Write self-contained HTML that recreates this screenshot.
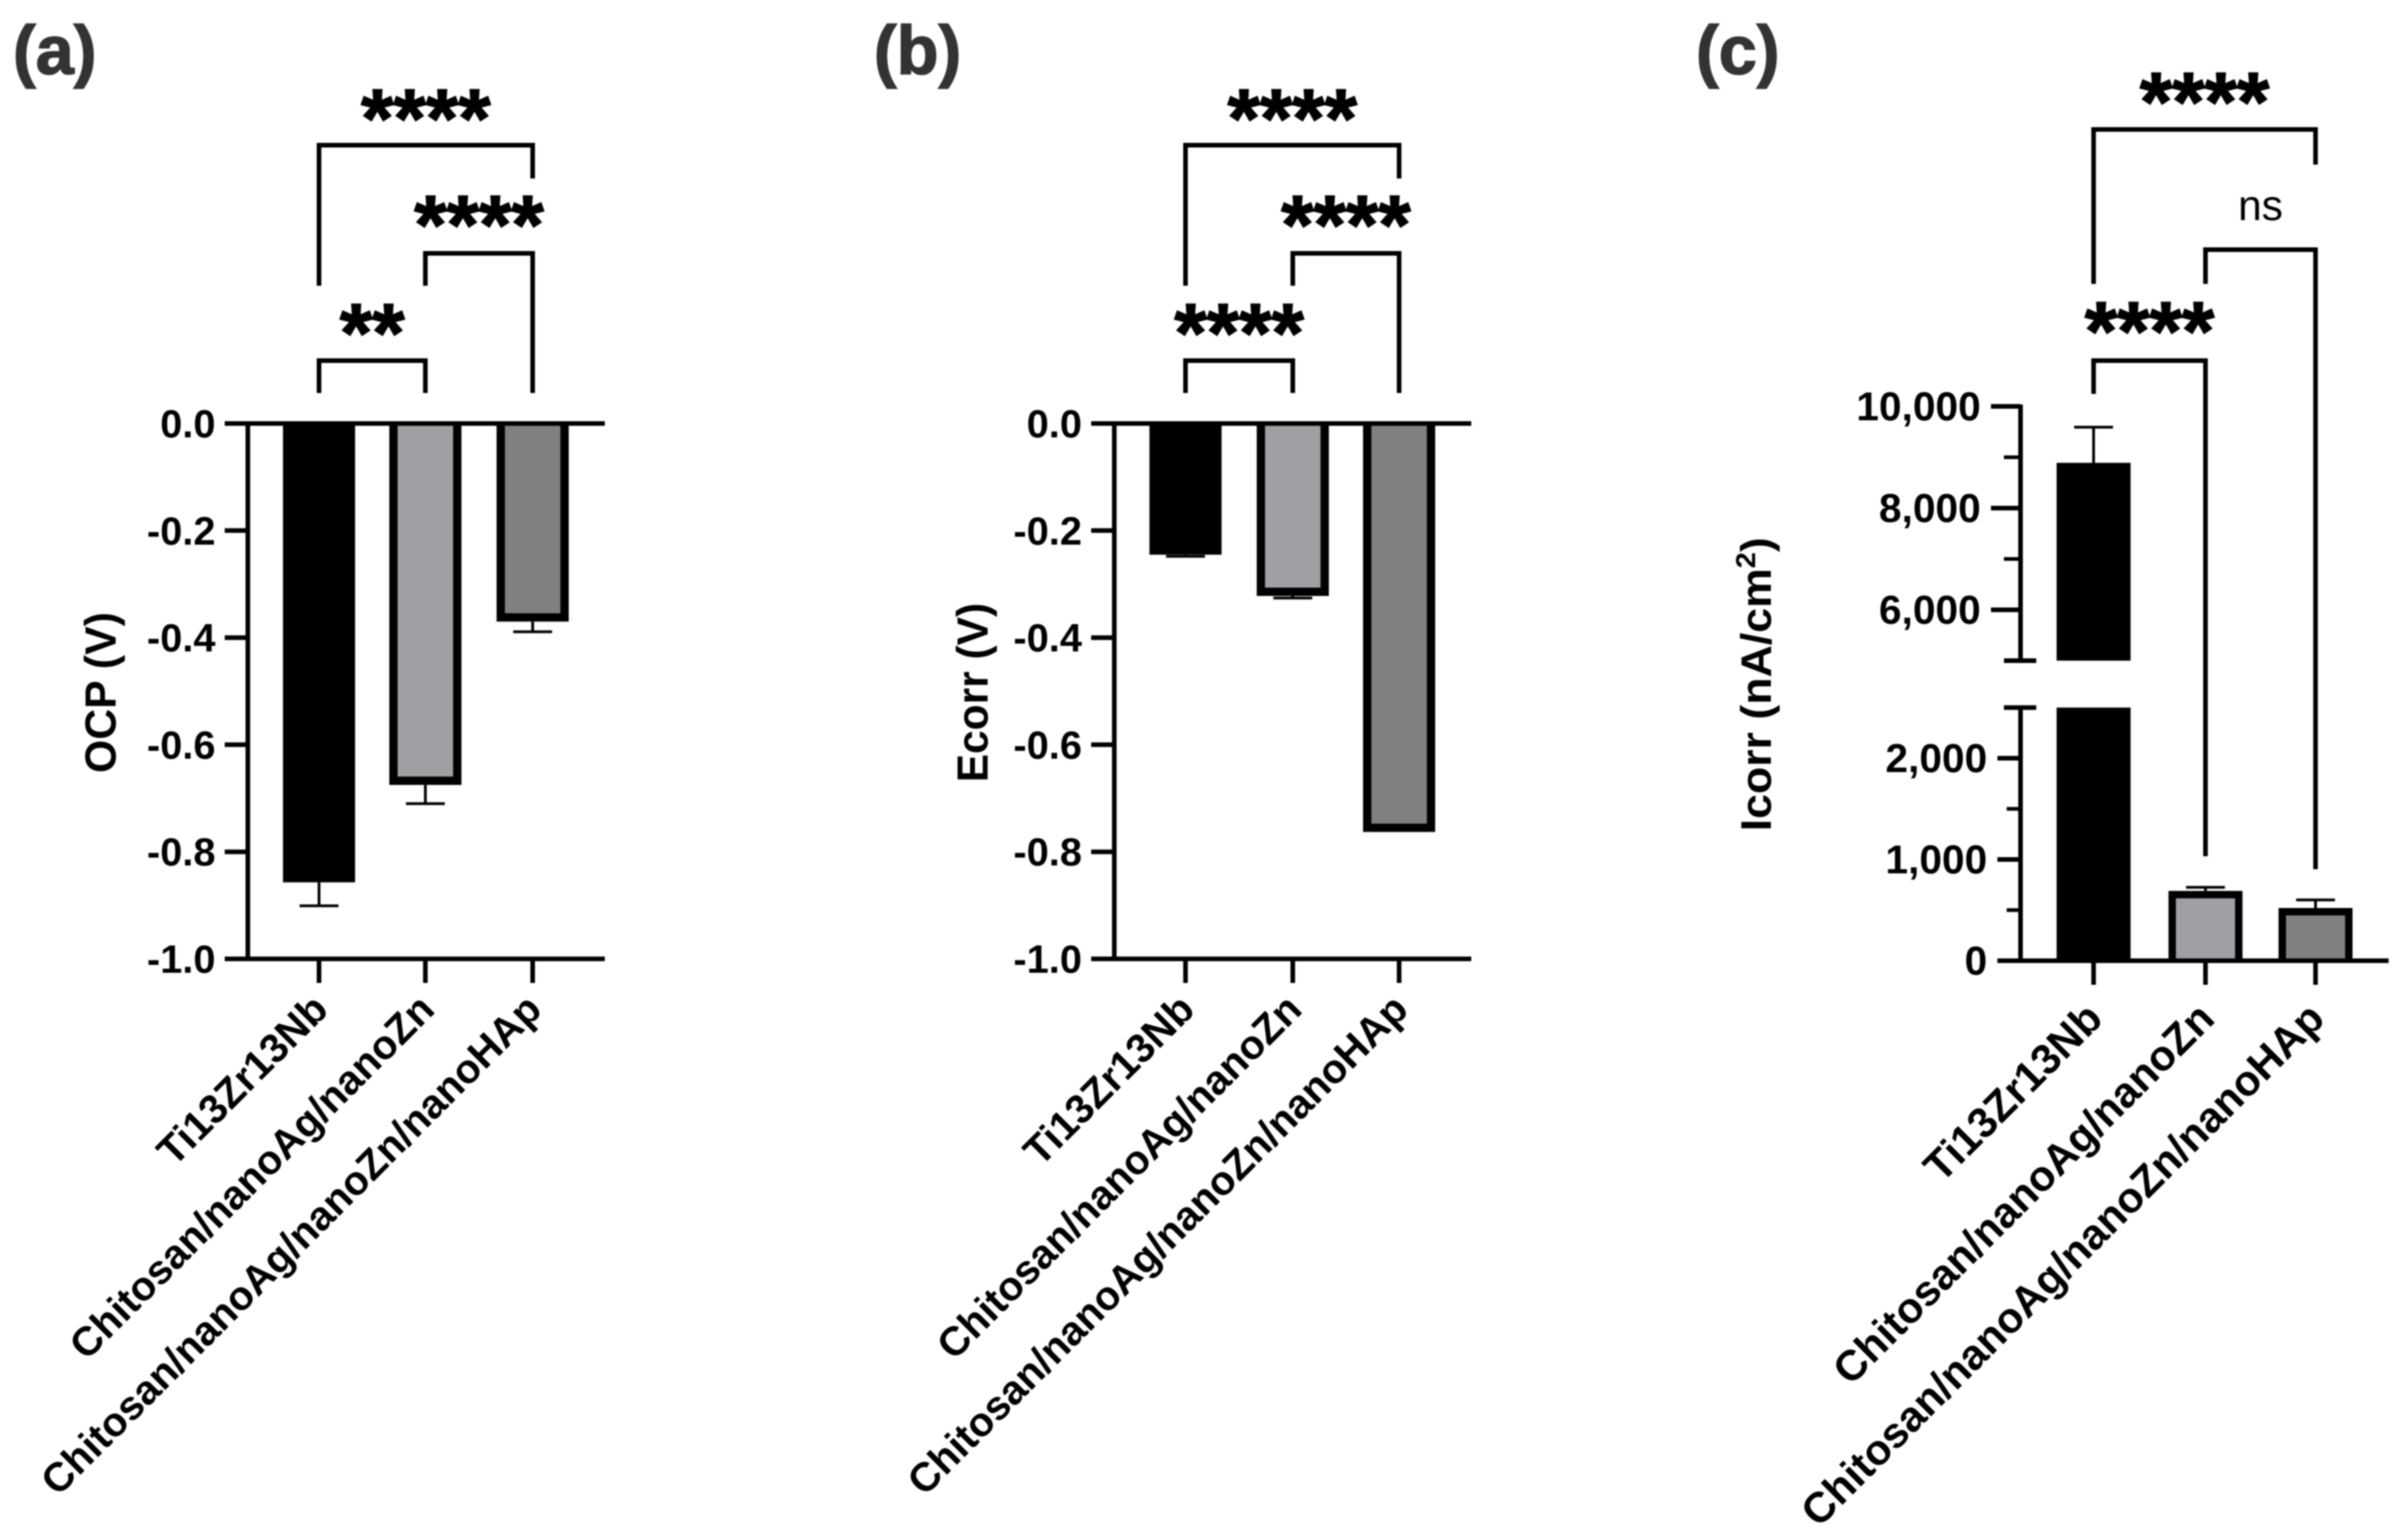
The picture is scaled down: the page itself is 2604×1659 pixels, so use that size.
<!DOCTYPE html>
<html lang="en">
<head>
<meta charset="utf-8">
<title>OCP, Ecorr and Icorr bar charts</title>
<style>
html,body{margin:0;padding:0;background:#fff;}
svg{display:block;font-family:"Liberation Sans",Arial,sans-serif;filter:blur(0.7px);}
</style>
</head>
<body>
<svg id="figure" width="2604" height="1659" viewBox="0 0 2604 1659" xmlns="http://www.w3.org/2000/svg"></svg>
<script>
const categories = ["Ti13Zr13Nb", "Chitosan/nanoAg/nanoZn", "Chitosan/nanoAg/nanoZn/nanoHAp"];
const barFills = ["#000000", "#a0a0a4", "#808080"];

const ocpValues = [-0.857, -0.675, -0.37];
const ocpErrors = [0.044, 0.035, 0.019];
const ecorrValues = [-0.245, -0.322, -0.763];
const ecorrErrors = [0.003, 0.004, 0];
const voltageTicks = [0, -0.2, -0.4, -0.6, -0.8, -1.0];
const icorrValues = [8890, 690, 520];
const icorrErrors = [700, 35, 80];
const icorrUpperMajorTicks = [10000, 8000, 6000];
const icorrUpperMinorTicks = [9000, 7000];
const icorrLowerMajorTicks = [2000, 1000, 0];
const icorrLowerMinorTicks = [1500, 500];
const icorrBreak = [2500, 5000];

const svg = document.getElementById('figure');
const NS = 'http://www.w3.org/2000/svg';

function mk(tag, attrs, name, parent) {
  const el = document.createElementNS(NS, tag);
  for (const k in attrs) el.setAttribute(k, attrs[k]);
  
  
  (parent || svg).appendChild(el);
  return el;
}
function line(x1, y1, x2, y2, w, name, parent) {
  return mk('line', {x1: x1, y1: y1, x2: x2, y2: y2, stroke: '#000', 'stroke-width': w}, name, parent);
}
function text(str, x, y, size, weight, anchor, name, parent, fill) {
  const t = mk('text', {x: x, y: y, 'font-size': size, 'font-weight': weight, 'text-anchor': anchor, fill: fill || '#000'}, name, parent);
  t.textContent = str;
  return t;
}
function bracket(x1, x2, top, d1, d2, name, parent) {
  mk('path', {d: 'M' + x1 + ' ' + d1 + 'V' + top + 'H' + x2 + 'V' + d2, fill: 'none', stroke: '#000', 'stroke-width': 5}, name, parent);
}
function stars(str, cx, cy, name, parent) {
  const t = text(str, cx, cy + 40, 90, 700, 'middle', name, parent);
  t.setAttribute('stroke', '#000');
  t.setAttribute('stroke-width', '1.5');
  return t;
}
function xLabels(xs, axisBottom, labelY, dx, size, parent) {
  categories.forEach(function (c, i) {
    const ax = xs[i] + dx;
    const t = text(c, ax, labelY, size, 700, 'end', 'x-tick-label-' + (i + 1), parent);
    t.setAttribute('transform', 'rotate(-45 ' + ax + ' ' + labelY + ')');
    line(xs[i], axisBottom, xs[i], axisBottom + 26, 5, 'x-tick-' + (i + 1), parent);
  });
}
// open bar: outlined on the two sides and the far end, open on the baseline side
function bar(x, w, yBase, yEnd, fill, sw, name, parent) {
  const dir = yEnd > yBase ? 1 : -1;
  const xl = x - w / 2 + sw / 2, xr = x + w / 2 - sw / 2, ye = yEnd - dir * sw / 2;
  return mk('path', {d: 'M' + xl + ' ' + yBase + 'V' + ye + 'H' + xr + 'V' + yBase,
    fill: fill, stroke: '#000', 'stroke-width': sw}, name, parent);
}

function voltagePanel(cfg) {
  const g = mk('g', {}, cfg.id, svg);
  const y = function (v) { return 458 + (0 - v) * 579; };
  const xs = cfg.xs;
  // error bars
  cfg.values.forEach(function (v, i) {
    if (!cfg.errors[i]) return;
    const yb = y(v), ye = y(v - cfg.errors[i]);
    line(xs[i], yb, xs[i], ye, 3, 'error-bar-' + (i + 1), g);
    line(xs[i] - 21, ye, xs[i] + 21, ye, 3, 'error-cap-' + (i + 1), g);
  });
  // bars
  cfg.values.forEach(function (v, i) {
    bar(xs[i], 78, y(0), y(v), barFills[i], 9, 'bar-' + (i + 1), g);
  });
  // axes
  line(cfg.axisX, y(0) - 2, cfg.axisX, y(-1) + 2, 5, 'y-axis-line', g);
  voltageTicks.forEach(function (t, i) {
    line(cfg.axisX - 25, y(t), cfg.axisX, y(t), 5, 'y-tick-' + i, g);
    text(t.toFixed(1), cfg.axisX - 35, y(t) + 15, 43, 700, 'end', 'y-tick-label-' + i, g);
  });
  line(cfg.axisX - 25, y(0), cfg.right, y(0), 5, 'x-axis-zero-line', g);
  line(cfg.axisX - 25, y(-1), cfg.right, y(-1), 5, 'x-axis-bottom-line', g);
  xLabels(xs, y(-1), 1094, 12, 44, g);
  // axis title
  const tx = cfg.titleX, ty = 749;
  const tt = text(cfg.title, tx, ty, 47, 700, 'middle', 'y-axis-title', g);
  tt.setAttribute('transform', 'rotate(-90 ' + tx + ' ' + ty + ')');
  tt.setAttribute('textLength', cfg.titleLen);
  tt.setAttribute('lengthAdjust', 'spacingAndGlyphs');
  // significance
  bracket(xs[0], xs[2], 157, 309, 193, 'bracket-1-3', g);
  bracket(xs[1], xs[2], 274, 309, 425, 'bracket-2-3', g);
  bracket(xs[0], xs[1], 390, 425, 425, 'bracket-1-2', g);
  stars('****', (xs[0] + xs[2]) / 2, 119, 'significance-1-3', g);
  stars('****', (xs[1] + xs[2]) / 2 + 0, 234, 'significance-2-3', g);
  stars(cfg.sig12, (xs[0] + xs[1]) / 2, 351, 'significance-1-2', g);
  const lab = text(cfg.letter, cfg.letterX, 80, 74, 700, 'start', 'panel-label', g, '#333');
  lab.setAttribute('stroke', '#333');
  lab.setAttribute('stroke-width', '1.5');
}

voltagePanel({id: 'panel-a', values: ocpValues, errors: ocpErrors, xs: [345, 460, 576], axisX: 268, right: 654,
  title: 'OCP (V)', titleX: 125, titleLen: 174, sig12: '**', letter: '(a)', letterX: 14});
voltagePanel({id: 'panel-b', values: ecorrValues, errors: ecorrErrors, xs: [1282, 1398, 1513], axisX: 1205, right: 1591,
  title: 'Ecorr (V)', titleX: 1068, titleLen: 194, sig12: '****', letter: '(b)', letterX: 945});

(function panelC() {
  const g = mk('g', {}, 'panel-c', svg);
  const xs = [2264, 2385, 2504];
  const axisX = 2185;
  const yLow = function (v) { return 1039 - v * 0.1095; };
  const yHigh = function (v) { return 714.5 - (v - icorrBreak[1]) * 0.055; };
  const y = function (v) { return v >= icorrBreak[1] ? yHigh(v) : yLow(v); };
  // error bars
  icorrValues.forEach(function (v, i) {
    const ye = y(v + icorrErrors[i]);
    line(xs[i], y(v), xs[i], ye, 3, 'error-bar-' + (i + 1), g);
    line(xs[i] - 21, ye, xs[i] + 21, ye, 3, 'error-cap-' + (i + 1), g);
  });
  // bars
  icorrValues.forEach(function (v, i) {
    if (v > icorrBreak[0]) {
      mk('rect', {x: xs[i] - 40, y: y(v), width: 80, height: yHigh(icorrBreak[1]) - y(v), fill: barFills[i]}, 'bar-' + (i + 1) + '-upper', g);
      mk('rect', {x: xs[i] - 40, y: yLow(icorrBreak[0]), width: 80, height: yLow(0) - yLow(icorrBreak[0]), fill: barFills[i]}, 'bar-' + (i + 1) + '-lower', g);
    } else {
      bar(xs[i], 80, yLow(0), y(v), barFills[i], 8, 'bar-' + (i + 1), g);
    }
  });
  // axes
  line(axisX, yHigh(10000) - 2, axisX, yHigh(icorrBreak[1]) + 2, 5, 'y-axis-upper', g);
  line(axisX, yLow(icorrBreak[0]) - 2, axisX, yLow(0), 5, 'y-axis-lower', g);
  icorrUpperMajorTicks.forEach(function (t, i) {
    line(2153, yHigh(t), axisX, yHigh(t), 5, 'y-tick-upper-' + i, g);
    text(t.toLocaleString('en-US'), 2142, yHigh(t) + 15, 44, 700, 'end', 'y-tick-label-upper-' + i, g);
  });
  icorrUpperMinorTicks.forEach(function (t, i) {
    line(2167, yHigh(t), axisX, yHigh(t), 4, 'y-minor-tick-upper-' + i, g);
  });
  icorrLowerMajorTicks.forEach(function (t, i) {
    line(2160, yLow(t), axisX, yLow(t), 5, 'y-tick-lower-' + i, g);
    text(t.toLocaleString('en-US'), 2149, yLow(t) + 15, 44, 700, 'end', 'y-tick-label-lower-' + i, g);
  });
  icorrLowerMinorTicks.forEach(function (t, i) {
    line(2170, yLow(t), axisX, yLow(t), 4, 'y-minor-tick-lower-' + i, g);
  });
  line(2167, yHigh(icorrBreak[1]), 2202, yHigh(icorrBreak[1]), 5, 'axis-break-upper', g);
  line(2167, yLow(icorrBreak[0]), 2202, yLow(icorrBreak[0]), 5, 'axis-break-lower', g);
  line(2160, yLow(0), 2583, yLow(0), 5, 'x-axis-line', g);
  xLabels(xs, yLow(0), 1104, 12, 46, g);
  // axis title
  const tx = 1915, ty = 740;
  const tt = mk('text', {x: tx, y: ty, 'font-size': 46, 'font-weight': 700, 'text-anchor': 'middle',
    transform: 'rotate(-90 ' + tx + ' ' + ty + ')', textLength: 318, lengthAdjust: 'spacingAndGlyphs'}, 'y-axis-title', g);
  tt.appendChild(document.createTextNode('Icorr (nA/cm'));
  const sup = mk('tspan', {'font-size': 30, dy: -17}, 'y-axis-title-superscript', tt);
  sup.textContent = '2';
  const close = mk('tspan', {dy: 17}, 'y-axis-title-close', tt);
  close.textContent = ')';
  // significance
  bracket(xs[0], xs[2], 140, 307, 178, 'bracket-1-3', g);
  bracket(xs[1], xs[2], 270, 307, 940, 'bracket-2-3', g);
  bracket(xs[0], xs[1], 390, 426, 926, 'bracket-1-2', g);
  stars('****', xs[1] - 1, 101, 'significance-1-3', g);
  stars('****', (xs[0] + xs[1]) / 2, 349, 'significance-1-2', g);
  text('ns', (xs[1] + xs[2]) / 2, 238, 46, 400, 'middle', 'significance-2-3', g);
  const lab = text('(c)', 1834, 80, 74, 700, 'start', 'panel-label', g, '#333');
  lab.setAttribute('stroke', '#333');
  lab.setAttribute('stroke-width', '1.5');
})();
</script>
</body>
</html>
